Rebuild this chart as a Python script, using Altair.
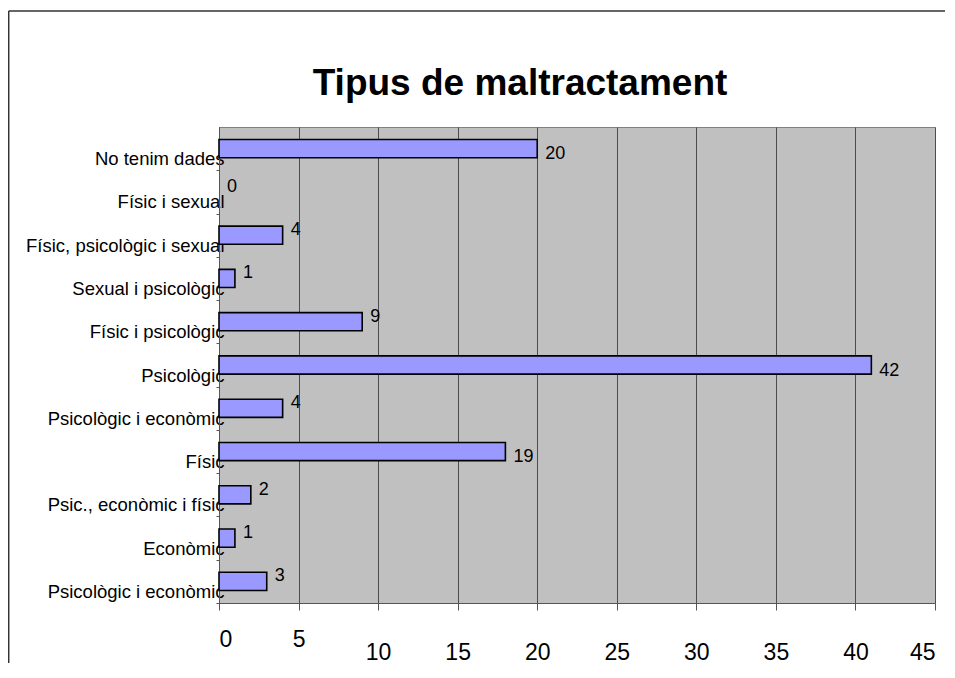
import json
import altair as alt
import pandas as pd

# ---- data ----
categories = [
    "No tenim dades",
    "Físic i sexual",
    "Físic, psicològic i sexual",
    "Sexual i psicològic",
    "Físic i psicològic",
    "Psicològic",
    "Psicològic i econòmic",
    "Físic",
    "Psic., econòmic i físic",
    "Econòmic",
    "Psicològic i econòmic",
]
bar_values = [20, 0, 4, 1, 9, 41, 4, 18, 2, 1, 3]
label_values = [20, 0, 4, 1, 9, 42, 4, 19, 2, 1, 3]
x_ticks = [0, 5, 10, 15, 20, 25, 30, 35, 40, 45]
title_text = "Tipus de maltractament"

df = pd.DataFrame({
    "idx": list(range(len(categories))),
    "cat": categories,
    "value": bar_values,
    "label": label_values,
})

FONT = "Liberation Sans"
label_expr = json.dumps(categories, ensure_ascii=False) + "[toNumber(datum.value)]"

x_enc = alt.X(
    "value:Q",
    scale=alt.Scale(domain=[0, 45], nice=False, zero=True),
    axis=alt.Axis(
        title=None,
        values=x_ticks,
        grid=True,
        gridColor="#4d4d4d",
        gridWidth=1,
        domainColor="#555555",
        tickColor="#555555",
        tickSize=7,
        labelFont=FONT,
        labelFontSize=23,
        labelColor="#000000",
        labelPadding={"condition": {"test": "datum.value < 10", "value": 18}, "value": 31},
    ),
)
y_enc = alt.Y(
    "idx:O",
    sort="ascending",
    scale=alt.Scale(paddingInner=0.58, paddingOuter=0.29),
    axis=alt.Axis(
        title=None,
        labelExpr=label_expr,
        grid=False,
        domainColor="#555555",
        tickColor="#555555",
        tickSize=3,
        tickOffset=21.6,
        labelOffset=-11.6,
        labelFont=FONT,
        labelFontSize=18.5,
        labelColor="#000000",
        labelAlign="right",
        labelPadding=-8,
        labelLimit=0,
    ),
)

base = alt.Chart(df)

bars = base.mark_bar(fill="#9999FF", stroke="#000000", strokeWidth=1.6).encode(
    x=x_enc, y=y_enc
).transform_filter("datum.value > 0")

labels_small = base.mark_text(
    align="left", baseline="middle", dx=8, dy=-5, font=FONT, fontSize=18, color="#000000"
).encode(x="value:Q", y=alt.Y("idx:O", sort="ascending"), text="label:Q").transform_filter(
    "datum.label < 10"
)
labels_big = base.mark_text(
    align="left", baseline="middle", dx=8, dy=5.5, font=FONT, fontSize=18, color="#000000"
).encode(x="value:Q", y=alt.Y("idx:O", sort="ascending"), text="label:Q").transform_filter(
    "datum.label >= 10"
)

frame_data = alt.Data(values=[{"f": 1}])
frame_left = alt.Chart(frame_data).mark_rule(color="#333333", strokeWidth=1.5).encode(
    x=alt.value(-210.3), y=alt.value(-116), y2=alt.value(700)
)
frame_top = alt.Chart(frame_data).mark_rule(color="#333333", strokeWidth=1.5).encode(
    x=alt.value(-210.3), x2=alt.value(900), y=alt.value(-116)
)

chart = alt.layer(bars, labels_small, labels_big, frame_left, frame_top).properties(
    width=716,
    height=476,
    autosize=alt.AutoSizeParams(type="none"),
    padding={"left": 211, "top": 119, "right": 10, "bottom": 60},
    title=alt.TitleParams(
        text=title_text,
        font=FONT,
        fontSize=37,
        fontWeight="bold",
        color="#000000",
        anchor="middle",
        frame="group",
        dx=-57,
        offset=-122,
        baseline="alphabetic",
    ),
).configure_view(fill="#C0C0C0", stroke="#808080", strokeWidth=1)

chart.save("out.html", embed_options={"renderer": "svg", "actions": False})
